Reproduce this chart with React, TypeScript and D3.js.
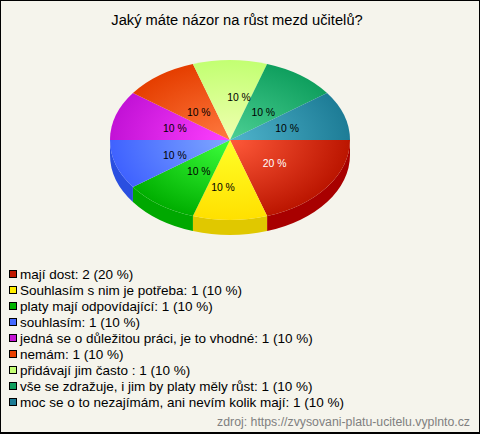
import React from "react";
import * as d3 from "d3";

const categories = [
  "mají dost",
  "Souhlasím s nim je potřeba",
  "platy mají odpovídající",
  "souhlasím",
  "jedná se o důležitou práci, je to vhodné",
  "nemám",
  "přidávají jim často ",
  "vše se zdražuje, i jim by platy měly růst",
  "moc se o to nezajímám, ani nevím kolik mají",
];
const counts = [2, 1, 1, 1, 1, 1, 1, 1, 1];
const percents = [20, 10, 10, 10, 10, 10, 10, 10, 10];
const edgeColors = ["#bb1500", "#ffe000", "#00ae00", "#3f62ff", "#c212d6", "#e53e00", "#c2ff72", "#0f9f5e", "#1d7c96"];
const midColors = ["#ff5a3a", "#ffff28", "#3cff3c", "#80a8ff", "#ff40ff", "#ff7a40", "#f0ffb0", "#4cd094", "#50b4cc"];
const sideColors = ["#a80000", "#e0c800", "#00a800", "#2a4fe0", "#a000a8", "#b83000", "#a0d060", "#0a8048", "#156078"];
const swatchColors = ["#c01800", "#ffee00", "#00b400", "#4468ff", "#c414d4", "#e84000", "#c4ff74", "#0f9f5e", "#1d7c96"];
const labelNudgeX = [-4, -7, 4, 2, 2, 4, 9, -2, 0];
const labelNudgeY = [0, 7, -1, 3, 1, 5, -3, 5, 1];

const title = "Jaký máte názor na růst mezd učitelů?";
const source = "zdroj: https://zvysovani-platu-ucitelu.vyplnto.cz";

const W = 480, H = 434, CX = 230, CY = 140, RX = 120, RY = 80, DEPTH = 15;

export default function App() {
  const pie = d3.pie<number>().sort(null).startAngle(Math.PI / 2).endAngle(Math.PI * 2.5);
  const arcs = pie(counts);
  const arc = d3.arc<d3.PieArcDatum<number>>().innerRadius(0).outerRadius(1);
  const px = (a: number) => RX * Math.sin(a);
  const py = (a: number) => -RY * Math.cos(a);
  const legendY = d3.scaleLinear().domain([0, 1]).range([273, 289]);

  return (
    <svg width={W} height={H} viewBox={`0 0 ${W} ${H}`}
      style={{ position: "absolute", left: 0, top: 0, display: "block", fontFamily: "'Liberation Sans', Arial, sans-serif" }}>
      <defs>
        {arcs.map((_, i) => (
          <radialGradient key={i} id={`g${i}`} gradientUnits="userSpaceOnUse" cx={0} cy={0} r={1}>
            <stop offset="0" stopColor={midColors[i]} />
            <stop offset="1" stopColor={edgeColors[i]} />
          </radialGradient>
        ))}
      </defs>
      <rect x={0.5} y={0.5} width={W - 1} height={H - 1.5} fill="#f5f4ec" stroke="#000" strokeWidth={1} />
      <rect x={0} y={H - 2} width={W} height={2} fill="#000" />
      <text x={237} y={25} textAnchor="middle" fontSize={14.7} fill="#000">{title}</text>

      <g transform={`translate(${CX},${CY})`}>
        {arcs.map((d, i) => {
          const a0 = Math.max(d.startAngle, Math.PI / 2);
          const a1 = Math.min(d.endAngle, Math.PI * 1.5);
          if (a1 <= a0) return null;
          const p = `M${px(a0)},${py(a0)}A${RX},${RY} 0 0 1 ${px(a1)},${py(a1)}L${px(a1)},${py(a1) + DEPTH}A${RX},${RY} 0 0 0 ${px(a0)},${py(a0) + DEPTH}Z`;
          return <path key={i} d={p} fill={sideColors[i]} />;
        })}
        <g transform={`scale(${RX},${RY})`}>
          {arcs.map((d, i) => (
            <path key={i} d={arc(d) as string} fill={`url(#g${i})`} />
          ))}
        </g>
        {arcs.map((d, i) => {
          const m = (d.startAngle + d.endAngle) / 2;
          return (
            <text key={i} x={px(m) * 0.5 + labelNudgeX[i]} y={py(m) * 0.5 + labelNudgeY[i] + 3.5}
              textAnchor="middle" fontSize={10.4} fill={i === 0 ? "#fff" : "#000"}>
              {percents[i]} %
            </text>
          );
        })}
      </g>

      {categories.map((c, i) => (
        <g key={i}>
          <rect x={9.5} y={legendY(i) - 2.5} width={7} height={7} fill={swatchColors[i]} stroke="#000" strokeWidth={1} />
          <text x={20} y={legendY(i) + 6} fontSize={13.5} fill="#000">
            {`${c}: ${counts[i]} (${percents[i]} %)`}
          </text>
        </g>
      ))}
      <text x={470} y={426} textAnchor="end" fontSize={12.3} fill="#808080">{source}</text>
    </svg>
  );
}
